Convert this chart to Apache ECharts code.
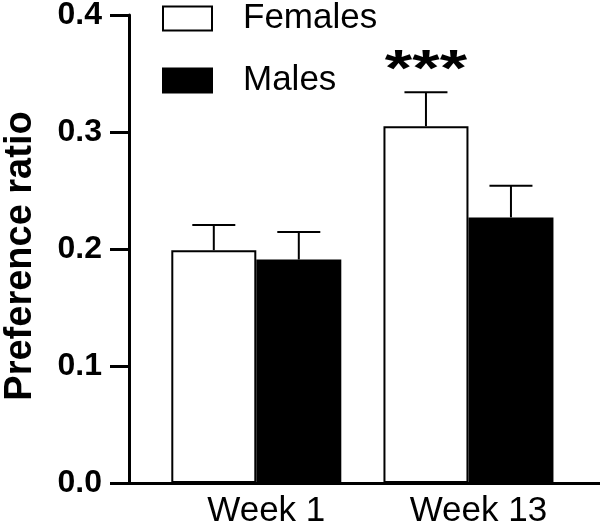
<!DOCTYPE html>
<html>
<head>
<meta charset="utf-8">
<script src="https://cdn.jsdelivr.net/npm/echarts@6/dist/echarts.min.js"></script>
<style>html,body{margin:0;padding:0;background:#fff}#c{width:600px;height:529px}</style>
</head>
<body>
<div id="c"></div>
<script>
var categories = ['Week 1', 'Week 13'];
var seriesNames = ['Females', 'Males'];
var femaleMeans = [0.199, 0.305];
var femaleErr = [0.0215, 0.029];
var maleMeans = [0.191, 0.227];
var maleErr = [0.0235, 0.027];
var sigLabels = ['', '***'];
var yTicks = [0, 0.1, 0.2, 0.3, 0.4];

var FONT = '"Liberation Sans", Arial, Helvetica, sans-serif';
var BAR_W = 85;

function barData(means) {
  return means.map(function (v, i) { return [i + 1, v]; });
}
function errData(means, errs, sig) {
  return means.map(function (v, i) { return [i + 1, v, v + errs[i], sig ? sig[i] : '']; });
}
function errRender(offset) {
  return function (params, api) {
    var x = api.value(0);
    var p0 = api.coord([x, api.value(1)]);
    var p1 = api.coord([x, api.value(2)]);
    var cx = p0[0] + offset;
    var half = 21.5;
    var children = [
      { type: 'line', shape: { x1: cx, y1: p0[1], x2: cx, y2: p1[1] }, style: { stroke: '#000', lineWidth: 2 } },
      { type: 'line', shape: { x1: cx - half, y1: p1[1], x2: cx + half, y2: p1[1] }, style: { stroke: '#000', lineWidth: 2 } }
    ];
    var sig = api.value(3);
    if (sig) {
      children.push({ type: 'text', x: cx, y: p1[1] - 21, scaleX: 1.1, scaleY: 0.82,
        style: { text: sig, fill: '#000', font: 'bold 64px ' + FONT, align: 'center', verticalAlign: 'middle' } });
    }
    return { type: 'group', children: children };
  };
}

var chart = echarts.init(document.getElementById('c'));
chart.setOption({
  animation: false,
  textStyle: { fontFamily: FONT },
  legend: {
    data: seriesNames,
    orient: 'vertical',
    left: 162, top: 1,
    padding: 0,
    icon: 'rect',
    itemWidth: 49, itemHeight: 24, itemGap: 27,
    textStyle: { fontSize: 35, color: '#000', fontFamily: FONT, padding: [0, 0, 0, 26] }
  },
  grid: { left: 129, right: 0, top: 15, bottom: 46, containLabel: false, outerBoundsMode: 'none' },
  xAxis: {
    type: 'value', min: 0.4, max: 2.62,
    splitLine: { show: false },
    axisLine: { show: true, lineStyle: { color: '#000', width: 3 } },
    axisTick: { show: false },
    axisLabel: {
      customValues: [1, 2],
      formatter: function (v) { return categories[Math.round(v) - 1] || ''; },
      fontSize: 35, color: '#000', fontFamily: FONT, margin: 11,
      padding: [0, 0, 0, 20]
    }
  },
  yAxis: {
    type: 'value', min: 0, max: 0.4, interval: 0.1,
    name: 'Preference ratio', nameLocation: 'middle', nameGap: 89,
    nameTextStyle: { fontSize: 38, fontWeight: 'bold', color: '#000', fontFamily: FONT, padding: [0, 14, 0, 0] },
    splitLine: { show: false },
    axisLine: { show: true, lineStyle: { color: '#000', width: 3 } },
    axisTick: { show: true, length: 19, lineStyle: { color: '#000', width: 3 } },
    axisLabel: {
      fontSize: 32, fontWeight: 'bold', color: '#000', fontFamily: FONT, margin: 27,
      formatter: function (v) { return v.toFixed(1); }
    }
  },
  series: [
    { name: 'Females', type: 'bar', barWidth: BAR_W, barGap: '0%', data: barData(femaleMeans),
      itemStyle: { color: '#fff', borderColor: '#000', borderWidth: 2 }, z: 3 },
    { name: 'Males', type: 'bar', barWidth: BAR_W, barGap: '0%', data: barData(maleMeans),
      itemStyle: { color: '#000', borderColor: '#000', borderWidth: 2 }, z: 3 },
    { name: 'FemErr', type: 'custom', renderItem: errRender(-BAR_W / 2), data: errData(femaleMeans, femaleErr, sigLabels), z: 2 },
    { name: 'MaleErr', type: 'custom', renderItem: errRender(BAR_W / 2), data: errData(maleMeans, maleErr), z: 2 }
  ]
});
</script>
</body>
</html>
